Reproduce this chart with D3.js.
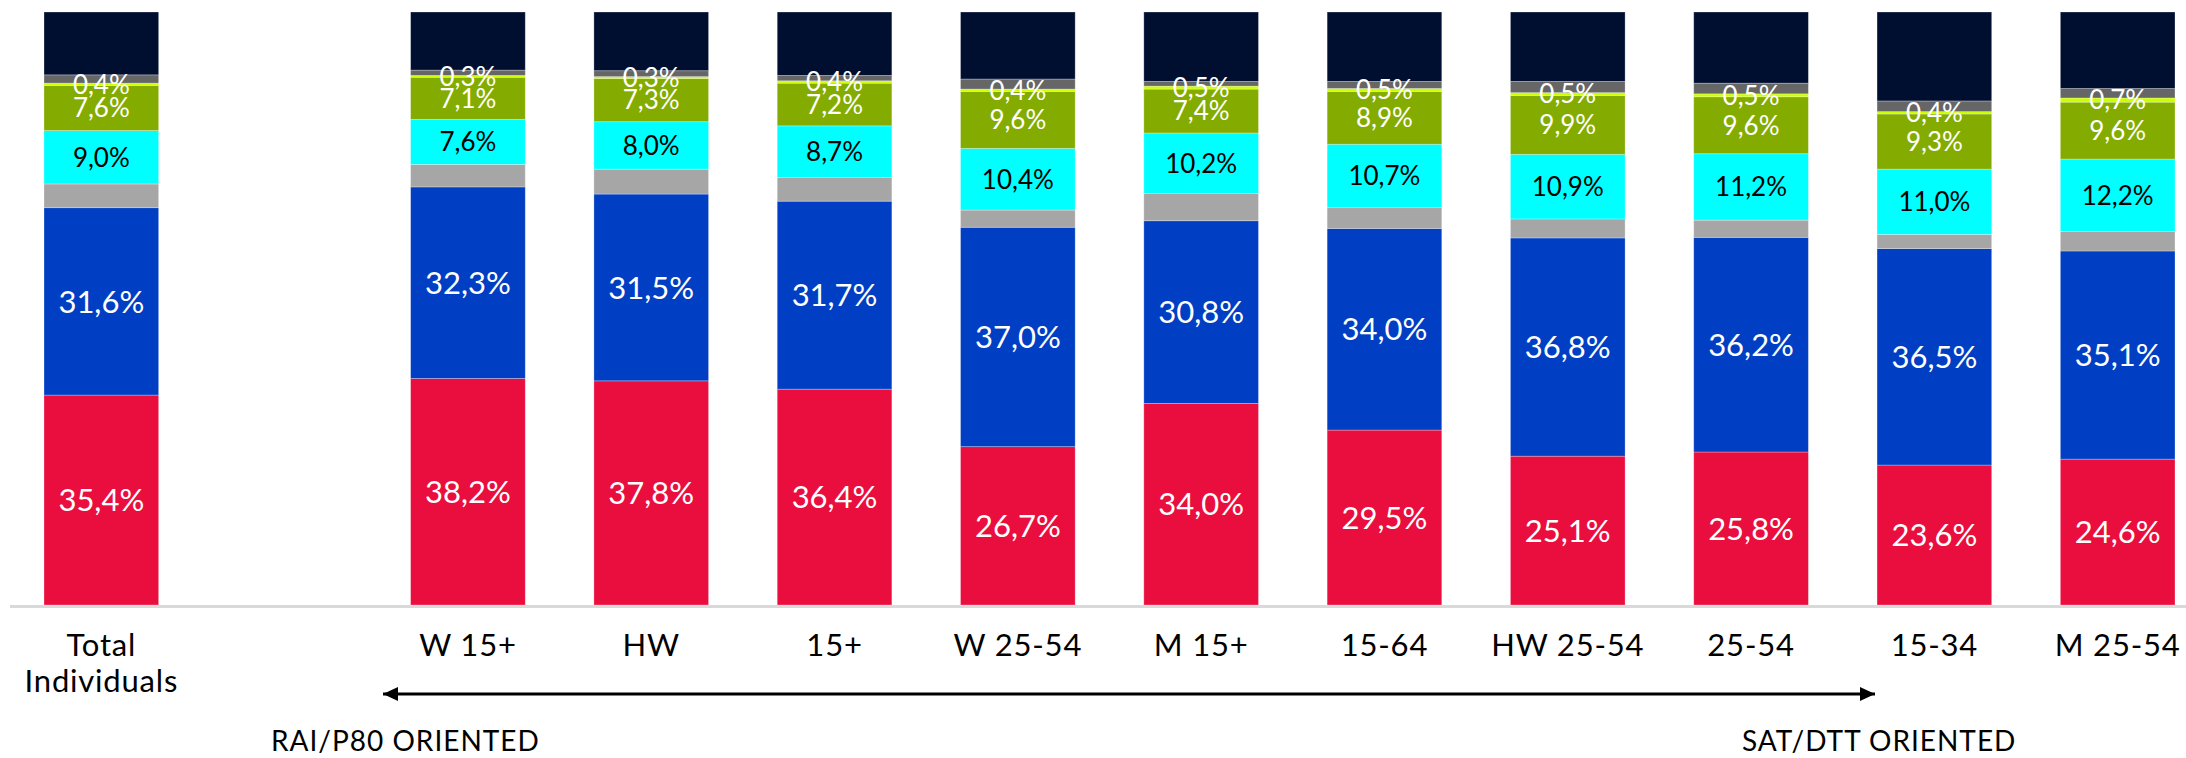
<!DOCTYPE html>
<html>
<head>
<meta charset="utf-8">
<script src="https://cdn.jsdelivr.net/npm/d3@7"></script>
<style>
  html, body { margin: 0; padding: 0; background: #ffffff; }
  svg { display: block; font-family: "Lato", "Open Sans", sans-serif; }
</style>
</head>
<body>
<svg id="chart" width="2186" height="758"></svg>
<script>
// Audience share by target (%), stacked to 100
const categories = ["Total Individuals", "W 15+", "HW", "15+", "W 25-54", "M 15+",
                    "15-64", "HW 25-54", "25-54", "15-34", "M 25-54"];

const rai      = [35.4, 38.2, 37.8, 36.4, 26.7, 34.0, 29.5, 25.1, 25.8, 23.6, 24.6];
const mediaset = [31.6, 32.3, 31.5, 31.7, 37.0, 30.8, 34.0, 36.8, 36.2, 36.5, 35.1];
const la7      = [4.0, 3.8, 4.2, 4.0, 2.9, 4.6, 3.5, 3.2, 2.9, 2.4, 3.3];
const sky      = [9.0, 7.6, 8.0, 8.7, 10.4, 10.2, 10.7, 10.9, 11.2, 11.0, 12.2];
const dtt      = [7.6, 7.1, 7.3, 7.2, 9.6, 7.4, 8.9, 9.9, 9.6, 9.3, 9.6];
const dttPay   = [0.4, 0.3, 0.3, 0.4, 0.4, 0.5, 0.5, 0.5, 0.5, 0.4, 0.7];
const satFree  = [1.4, 0.9, 1.0, 0.9, 1.7, 0.8, 1.2, 1.9, 1.8, 1.8, 1.6];
const others   = [10.6, 9.8, 9.9, 10.7, 11.3, 11.7, 11.7, 11.7, 12.0, 15.0, 12.9];

const seriesKeys = ["rai", "mediaset", "la7", "sky", "dtt", "dttPay", "satFree", "others"];
const seriesValues = { rai, mediaset, la7, sky, dtt, dttPay, satFree, others };
const colors = {
  rai: "#ea0e3e", mediaset: "#003fc3", la7: "#a6a6a6", sky: "#00ffff",
  dtt: "#84ac00", dttPay: "#ccff00", satFree: "#666666", others: "#000f30"
};
// Which series carry a value label, in which colour and size
const labelled = {
  rai: { fill: "#ffffff", size: 31 },
  mediaset: { fill: "#ffffff", size: 31 },
  sky: { fill: "#000000", size: 26 },
  dtt: { fill: "#ffffff", size: 26 },
  dttPay: { fill: "#ffffff", size: 26 }
};

const rows = categories.map((c, i) => {
  const r = { category: c };
  seriesKeys.forEach(k => { r[k] = seriesValues[k][i]; });
  return r;
});

// An empty slot separates the total from the individual targets
const slots = [categories[0], "gap", ...categories.slice(1)];

const svg = d3.select("#chart");
const x = d3.scaleBand().domain(slots).range([44, 2175]).paddingInner(0.3745).paddingOuter(0);
const y = d3.scaleLinear().domain([0, 100]).range([605, 12]);

const stacked = d3.stack().keys(seriesKeys)(rows);

// baseline
svg.append("line")
  .attr("x1", 10).attr("x2", 2186)
  .attr("y1", y(0) + 1.5).attr("y2", y(0) + 1.5)
  .attr("stroke", "#d9d9d9").attr("stroke-width", 3);

const layers = svg.append("g").selectAll("g")
  .data(stacked).join("g")
  .attr("fill", d => colors[d.key]);

layers.selectAll("rect")
  .data(d => d)
  .join("rect")
  .attr("x", d => x(d.data.category))
  .attr("width", x.bandwidth())
  .attr("y", d => y(d[1]))
  .attr("height", d => y(d[0]) - y(d[1]))
  .attr("stroke", "rgba(255,255,255,0.35)")
  .attr("stroke-width", 0.8);

const fmt = v => v.toFixed(1).replace(".", ",") + "%";

// value labels
const labelG = svg.append("g").attr("text-anchor", "middle");
stacked.filter(s => labelled[s.key]).forEach(s => {
  const st = labelled[s.key];
  labelG.selectAll(null)
    .data(s)
    .join("text")
    .attr("x", d => x(d.data.category) + x.bandwidth() / 2)
    .attr("y", d => (y(d[0]) + y(d[1])) / 2)
    .attr("dy", "0.36em")
    .attr("fill", st.fill)
    .attr("font-size", st.size)
    .text(d => fmt(d[1] - d[0]));
});

// category captions
const capG = svg.append("g").attr("text-anchor", "middle").attr("font-size", 31)
  .attr("letter-spacing", 0.8).attr("fill", "#000");
categories.forEach(c => {
  const cx = x(c) + x.bandwidth() / 2;
  const t = capG.append("text").attr("x", cx).attr("y", 656);
  const parts = c === "Total Individuals" ? ["Total", "Individuals"] : [c];
  parts.forEach((p, j) => {
    t.append("tspan").attr("x", cx).attr("dy", j === 0 ? 0 : 36).text(p);
  });
});

// orientation arrow
const defs = svg.append("defs");
["start", "end"].forEach(n => {
  defs.append("marker")
    .attr("id", "arrow-" + n)
    .attr("viewBox", "0 0 15 14")
    .attr("refX", n === "end" ? 15 : 0).attr("refY", 7)
    .attr("markerWidth", 15).attr("markerHeight", 14)
    .attr("markerUnits", "userSpaceOnUse")
    .attr("orient", "auto")
    .append("path")
    .attr("d", n === "end" ? "M0,0 L15,7 L0,14 Z" : "M15,0 L0,7 L15,14 Z")
    .attr("fill", "#000");
});
svg.append("line")
  .attr("x1", 383).attr("x2", 1875)
  .attr("y1", 694).attr("y2", 694)
  .attr("stroke", "#000").attr("stroke-width", 3)
  .attr("marker-start", "url(#arrow-start)")
  .attr("marker-end", "url(#arrow-end)");

const noteG = svg.append("g").attr("font-size", 28).attr("letter-spacing", 1).attr("fill", "#000");
noteG.append("text").attr("x", 271).attr("y", 751).text("RAI/P80 ORIENTED");
noteG.append("text").attr("x", 1742).attr("y", 751).text("SAT/DTT ORIENTED");
</script>
</body>
</html>
